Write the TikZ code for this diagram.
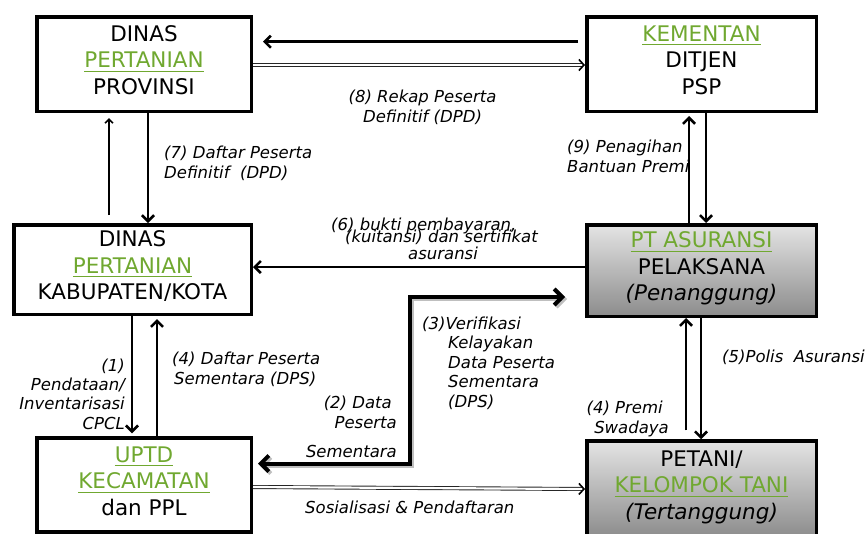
\documentclass[tikz,border=0pt]{standalone}
\usepackage{fontspec}
\setmainfont{DejaVu Sans}
\usetikzlibrary{arrows.meta,shadows,calc}
\definecolor{pgreen}{RGB}{112,168,48}
\definecolor{boxtop}{RGB}{228,228,228}
\definecolor{boxbot}{RGB}{140,140,140}
\newcommand\gul[1]{\setbox0\hbox{#1}\rlap{\rule[-4pt]{\wd0}{1.1pt}}\box0}
\newcommand\grn[1]{\textcolor{pgreen}{\gul{#1}}}
\newcommand\dpt{\rule[-8pt]{0pt}{1pt}}
\begin{document}
\begin{tikzpicture}[x=1pt,y=-1pt,
  box/.style={draw=black, line width=3.5pt, fill=white, align=center, inner sep=0pt, font=\fontsize{21.5}{26.5}\selectfont},
  gbox/.style={box, top color=boxtop, bottom color=boxbot, drop shadow={shadow xshift=2pt,shadow yshift=-2pt,opacity=0.35}},
  lbl/.style={inner sep=0pt, font=\fontsize{16.5}{20}\selectfont\itshape},
  arr/.style={line width=2.6pt, -{Straight Barb[length=6pt,width=12pt]}},
  thinarr/.style={line width=1.6pt, -{Straight Barb[length=4pt,width=8pt]}},
  dbl/.style={draw=black!85, double=white, line width=0.9pt, double distance=2.2pt, -{Straight Barb[length=5pt,width=11pt,line width=1.6pt,color=black]}},
  elbow/.style={line width=4pt, line join=miter, {Straight Barb[length=8pt,width=16pt]}-{Straight Barb[length=8pt,width=16pt]}}
]
\useasboundingbox (0,0) rectangle (867,533);
\clip (0,0) rectangle (867,533);

% boxes
\node[box, minimum width=214.5pt, minimum height=94.5pt] (prov) at (144,64) {DINAS\\\grn{PERTANIAN}\\PROVINSI\dpt};
\node[box, minimum width=229.5pt, minimum height=94.5pt] (kem) at (701.5,64) {\grn{KEMENTAN}\\DITJEN\\PSP\dpt};
\node[box, minimum width=237.5pt, minimum height=89.5pt] (kab) at (132.5,269.5) {DINAS\\\grn{PERTANIAN}\\KABUPATEN/KOTA\dpt};
\node[gbox, minimum width=229.5pt, minimum height=91.5pt] (pt) at (701.5,270.5) {\grn{PT ASURANSI}\\PELAKSANA\\\textit{(Penanggung)}\dpt};
\node[box, minimum width=214.5pt, minimum height=94pt] (uptd) at (144,485) {\grn{UPTD}\\\grn{KECAMATAN}\\dan PPL\dpt};
\node[gbox, minimum width=229.5pt, minimum height=96pt] (pet) at (701.5,489) {PETANI/\\\grn{KELOMPOK TANI}\\\textit{(Tertanggung)}\dpt};

% connectors top
\draw[arr] ([xshift=-7pt,yshift=22.3pt]kem.west) -- ([xshift=10pt,yshift=22.3pt]prov.east);
\draw[dbl] ([yshift=-1pt]prov.east) -- ([yshift=-1pt]kem.west);
\draw[thinarr] ([xshift=-23.5pt,yshift=8pt]kab.north) -- ([xshift=-35pt,yshift=-5pt]prov.south);
\draw[arr] ([xshift=4pt]prov.south) -- ([xshift=15.5pt]kab.north);
\draw[arr] ([xshift=-12.5pt]pt.north) -- ([xshift=-12.5pt,yshift=-3pt]kem.south);
\draw[arr] ([xshift=4.5pt]kem.south) -- ([xshift=4.5pt]pt.north);
\draw[arr] ([yshift=3.5pt]pt.west) -- ([yshift=2.5pt]kab.east);

% connectors bottom
\draw[arr] ([xshift=-0.5pt]kab.south) -- ([xshift=-12pt,yshift=3pt]uptd.north);
\draw[arr] ([xshift=13pt]uptd.north) -- ([xshift=24.5pt,yshift=-3pt]kab.south);
\coordinate (elb) at (410,297);
\draw[elbow, draw=black, opacity=0.25, transform canvas={xshift=2pt,yshift=-2pt}] ([xshift=5pt,yshift=21.5pt]uptd.east) -| (elb) -- ([xshift=-20pt,yshift=-26.5pt]pt.west);
\draw[elbow] ([xshift=5pt,yshift=21.5pt]uptd.east) -| (elb) -- ([xshift=-20pt,yshift=-26.5pt]pt.west);
\draw[arr] ([xshift=-15.5pt,yshift=9pt]pet.north) -- ([xshift=-15.5pt]pt.south);
\draw[arr] ([xshift=-0.5pt]pt.south) -- ([xshift=-0.5pt]pet.north);
\draw[dbl] ([yshift=-2pt]uptd.east) -- ([yshift=0pt]pet.west);

% labels
\node[lbl, anchor=north west, align=left] (l7) at (164,145.5) {(7) Daftar Peserta\\Definitif\ \ (DPD)};
\node[lbl, anchor=north, align=center] (l8) at (422.5,89.5) {(8) Rekap Peserta\\Definitif (DPD)};
\node[lbl, anchor=north west, align=left] (l9) at (567,139.5) {(9) Penagihan\\Bantuan Premi};
\node[lbl, anchor=north west, align=left] (l6) at (331,217.5) {(6) bukti pembayaran,\\[-8pt]\hspace*{14pt}(kuitansi) dan sertifikat\\[-3pt]\hspace*{77pt}asuransi};
\node[lbl, anchor=north east, align=right, font=\fontsize{16.5}{19.3}\selectfont\itshape] (l1) at (125,358.5) {(1)\\Pendataan/\\Inventarisasi\\CPCL};
\node[lbl, anchor=north west, align=left] (l4a) at (172,351.5) {(4) Daftar Peserta\\\hspace*{2pt}Sementara (DPS)};
\node[lbl, anchor=north east, align=right] (l2) at (397,395.5) {(2) Data\hspace*{5pt}\\Peserta\\[9pt]Sementara};
\node[lbl, anchor=north west, align=left, font=\fontsize{16.5}{19.5}\selectfont\itshape] (l3) at (422,316.5) {(3)Verifikasi\\\hspace*{26pt}Kelayakan\\\hspace*{26pt}Data Peserta\\\hspace*{26pt}Sementara\\\hspace*{26pt}(DPS)};
\node[lbl, anchor=north east, align=right] (l4b) at (669,400.5) {(4) Premi\hspace*{6pt}\\Swadaya};
\node[lbl, anchor=north west] (l5) at (722,349.5) {(5)Polis\ \ Asuransi};
\node[lbl, anchor=north west] (ls) at (305,500.5) {Sosialisasi \& Pendaftaran};
\end{tikzpicture}
\end{document}
